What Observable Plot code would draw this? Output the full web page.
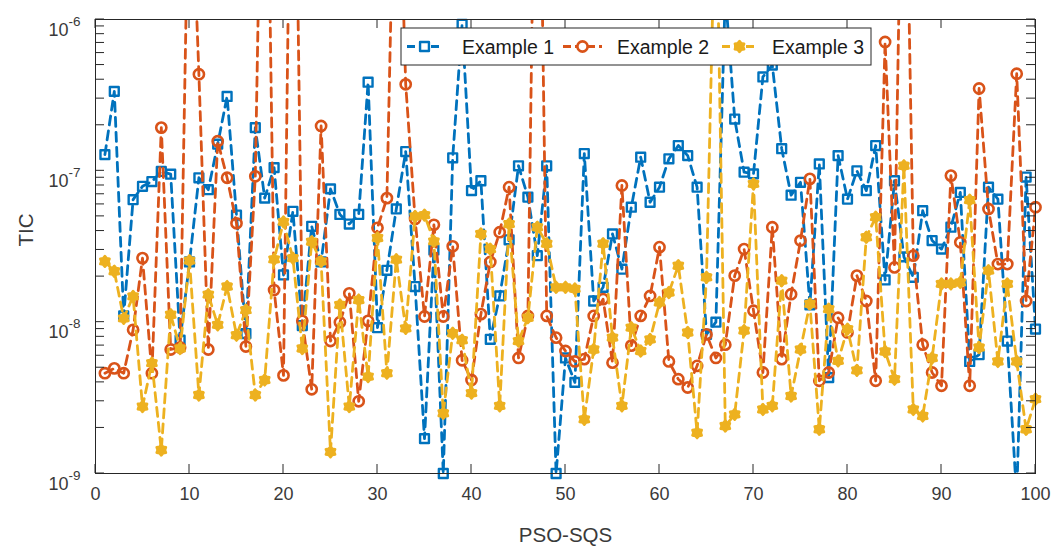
<!DOCTYPE html>
<html>
<head>
<meta charset="utf-8">
<script src="https://cdn.jsdelivr.net/npm/d3@7"></script>
<script src="https://cdn.jsdelivr.net/npm/@observablehq/plot@0.6"></script>
<style>
  body { margin: 0; background: #fff; }
  #chart { width: 1058px; height: 554px; }
</style>
</head>
<body>
<div id="chart"></div>
<script>
// Run index (x) and TIC value per run for each example
const runs = d3.range(1, 101);
const example1 = [
  1.28e-7, 3.35e-7, 1.1e-8, 6.45e-8, 7.9e-8, 8.5e-8, 9.9e-8, 9.5e-8, 7.6e-9, 2.5e-8,
  9.0e-8, 7.5e-8, 1.5e-7, 3.1e-7, 5.1e-8, 8.4e-9, 1.93e-7, 6.6e-8, 1.05e-7, 2.05e-8,
  5.4e-8, 9.5e-9, 4.3e-8, 2.5e-8, 7.6e-8, 5.15e-8, 4.45e-8, 5.15e-8, 3.85e-7, 9.2e-9,
  2.2e-8, 5.6e-8, 1.34e-7, 1.72e-8, 1.7e-9, 3.0e-8, 1.0e-9, 1.22e-7, 9.3e-7, 7.4e-8,
  8.6e-8, 7.7e-9, 1.49e-8, 3.5e-8, 1.08e-7, 6.7e-8, 2.75e-8, 1.08e-7, 1.0e-9, 5.8e-9,
  4.0e-9, 1.3e-7, 1.38e-8, 1.7e-8, 3.83e-8, 2.24e-8, 5.75e-8, 1.23e-7, 6.2e-8, 7.8e-8,
  1.2e-7, 1.47e-7, 1.26e-7, 7.8e-8, 8.3e-9, 1.0e-8, 1.5e-6, 2.2e-7, 9.8e-8, 9.55e-8,
  4.17e-7, 5.0e-7, 1.4e-7, 6.9e-8, 8.4e-8, 1.3e-8, 1.11e-7, 4.3e-9, 1.26e-7, 6.5e-8,
  1.0e-7, 7.4e-8, 1.47e-7, 1.9e-8, 8.6e-8, 2.7e-8, 1.98e-8, 5.45e-8, 3.46e-8, 3.04e-8,
  4.24e-8, 7.2e-8, 5.5e-9, 6.1e-9, 7.8e-8, 6.5e-8, 7.5e-9, 7e-10, 9.1e-8, 9.0e-9
];
const example2 = [
  4.6e-9, 4.95e-9, 4.6e-9, 8.9e-9, 2.65e-8, 4.6e-9, 1.93e-7, 6.6e-9, 6.8e-9, 2e-5,
  4.35e-7, 6.6e-9, 1.57e-7, 9.0e-8, 4.5e-8, 6.9e-9, 9.2e-8, 3e-4, 1.63e-8, 4.45e-9,
  3e-4, 1.02e-8, 3.6e-9, 1.98e-7, 7.5e-9, 1.0e-8, 1.55e-8, 3.0e-9, 1.02e-8, 4.2e-8,
  6.6e-8, 5e-5, 3.73e-7, 4.8e-8, 1.09e-8, 4.4e-8, 1.09e-8, 3.17e-8, 5.6e-9, 4.15e-9,
  1.13e-8, 2.5e-8, 3.93e-8, 7.8e-8, 5.8e-9, 1.1e-8, 3e-4, 1.1e-8, 7.9e-9, 6.45e-9,
  5.5e-9, 5.7e-9, 1.1e-8, 1.42e-8, 5.4e-9, 8.0e-8, 7.0e-9, 1.1e-8, 1.49e-8, 3.13e-8,
  5.5e-9, 4.2e-9, 3.7e-9, 5.14e-9, 8.3e-9, 5.8e-9, 7.1e-9, 2.03e-8, 3.04e-8, 1.19e-8,
  4.65e-9, 4.24e-8, 5.7e-9, 1.53e-8, 3.46e-8, 8.85e-8, 4.1e-9, 4.65e-9, 1.07e-8, 8.55e-9,
  2.03e-8, 1.38e-8, 4.1e-9, 7.1e-7, 2.3e-8, 1e-4, 2.75e-8, 7.1e-9, 4.65e-9, 3.8e-9,
  9.3e-8, 3.37e-8, 3.8e-9, 3.5e-7, 5.6e-8, 2.42e-8, 2.42e-8, 4.38e-7, 1.38e-8, 5.75e-8
];
const example3 = [
  2.52e-8, 2.17e-8, 1.06e-8, 1.48e-8, 2.77e-9, 5.36e-9, 1.43e-9, 1.12e-8, 6.7e-9, 2.55e-8,
  3.3e-9, 1.52e-8, 9.6e-9, 1.72e-8, 8.2e-9, 1.2e-8, 3.3e-9, 4.15e-9, 2.6e-8, 4.6e-8,
  2.65e-8, 6.7e-9, 3.4e-8, 2.52e-8, 1.39e-9, 1.3e-8, 2.77e-9, 1.4e-8, 4.37e-9, 3.6e-8,
  4.6e-9, 2.59e-8, 9.1e-9, 5.0e-8, 5.1e-8, 3.42e-8, 2.5e-9, 8.45e-9, 7.6e-9, 3.4e-9,
  3.83e-8, 3.04e-8, 2.8e-9, 4.45e-8, 7.5e-9, 1.07e-8, 4.24e-8, 3.3e-8, 1.7e-8, 1.7e-8,
  1.66e-8, 2.28e-9, 6.6e-9, 3.3e-8, 7.9e-9, 2.8e-9, 9.2e-9, 6.45e-9, 7.7e-9, 1.35e-8,
  1.57e-8, 2.36e-8, 8.55e-9, 1.86e-9, 1.98e-8, 1e-5, 2.06e-9, 2.46e-9, 8.8e-9, 8.2e-8,
  2.65e-9, 2.8e-9, 1.88e-8, 3.25e-9, 6.6e-9, 1.32e-8, 1.96e-9, 1.22e-8, 5.55e-9, 9.0e-9,
  4.8e-9, 3.64e-8, 4.94e-8, 6.4e-9, 4.2e-9, 1.08e-7, 2.65e-9, 2.4e-9, 5.8e-9, 1.79e-8,
  1.79e-8, 1.83e-8, 6.4e-8, 6.8e-9, 2.19e-8, 5.5e-9, 1.79e-8, 5.5e-9, 1.96e-9, 3.1e-9
];
const seriesNames = ["Example 1", "Example 2", "Example 3"];
const xTicks = d3.range(0, 101, 10);
const yTicks = [1e-9, 1e-8, 1e-7, 1e-6];
const xLabel = "PSO-SQS";
const yLabel = "TIC";

const colors = ["#0072BD", "#D95319", "#EDB120"];
const font = "'Liberation Sans', Arial, Helvetica, sans-serif";
const ink = "#262626";
const textInk = "#3a3a3a";
const dash = "9,6";

// filled six-pointed star used for the third series
const hexagram = {
  draw(ctx, size) {
    const R = Math.sqrt(size) * 0.6, r = R * 0.68;
    for (let j = 0; j < 12; j++) {
      const a = Math.PI / 2 + j * Math.PI / 6, rad = j % 2 ? r : R;
      const px = rad * Math.cos(a), py = -rad * Math.sin(a);
      j ? ctx.lineTo(px, py) : ctx.moveTo(px, py);
    }
    ctx.closePath();
  }
};
const markerStyles = [
  {symbol: "square", fill: "none", strokeWidth: 2.4, r: 5.0},
  {symbol: "circle", fill: "none", strokeWidth: 2.6, r: 5.1},
  {symbol: hexagram, fillKey: true, strokeWidth: 2.6, r: 5.0}
];

const tables = [example1, example2, example3].map((vals, k) =>
  vals.map((v, i) => ({run: runs[i], tic: v, series: seriesNames[k]})));
const inView = d => d.tic >= 0.999e-9 && d.tic <= 1.001e-6;

const marks = [];
tables.forEach((rows, k) => {
  const m = markerStyles[k];
  marks.push(Plot.line(rows, {
    x: "run", y: "tic", stroke: colors[k], strokeWidth: 2.8,
    strokeDasharray: dash, clip: true
  }));
  marks.push(Plot.dot(rows.filter(inView), {
    x: "run", y: "tic", symbol: () => m.symbol, r: m.r,
    stroke: colors[k], strokeWidth: m.strokeWidth, strokeLinejoin: "round",
    fill: m.fillKey ? colors[k] : "none"
  }));
});

const plot = Plot.plot({
  width: 1058, height: 554,
  marginLeft: 95, marginRight: 23, marginTop: 19, marginBottom: 81,
  style: {fontFamily: font, fontSize: "18px", color: ink, background: "#fff"},
  x: {domain: [0, 100]},
  y: {type: "log", domain: [1e-9, 1e-6]},
  marks: [
    ...marks,
    Plot.frame({stroke: ink, strokeWidth: 1}),
    Plot.axisX({ticks: xTicks, tickSize: 0, tickPadding: 14, label: null, fontSize: 18, fill: textInk}),
    Plot.axisY({ticks: yTicks, tickSize: 0, tickPadding: 15, label: null, fontSize: 18, fill: textInk,
      tickFormat: d => "10^" + Math.round(Math.log10(d))}),
    Plot.text([xLabel], {frameAnchor: "bottom", dy: 68, fontSize: 20.5, fill: textInk}),
    Plot.text([yLabel], {frameAnchor: "left", dx: -69, rotate: -90, fontSize: 20.5, fill: textInk})
  ]
});

const svg = d3.select(plot);
const sx = plot.scale("x"), sy = plot.scale("y");

// superscript exponents on the y tick labels; the whole label is centred on its tick
svg.selectAll('g[aria-label="y-axis tick label"] text').each(function () {
  const t = d3.select(this);
  const [base, exp] = t.text().split("^");
  t.text(null).attr("dy", 10.5);
  t.append("tspan").text(base);
  t.append("tspan").attr("dy", -10).attr("font-size", "13.5px").text(exp);
});

// inward tick marks on all four sides
const tg = svg.append("g").attr("stroke", ink).attr("stroke-width", 1);
const yBottom = sy.apply(1e-9), yTop = sy.apply(1e-6);
const xLeft = sx.apply(0), xRight = sx.apply(100);
xTicks.forEach(t => {
  const x = sx.apply(t);
  tg.append("line").attr("x1", x).attr("x2", x).attr("y1", yBottom).attr("y2", yBottom - 9);
  tg.append("line").attr("x1", x).attr("x2", x).attr("y1", yTop).attr("y2", yTop + 9);
});
const minor = [];
for (let e = -9; e < -6; e++) for (let m = 1; m < 10; m++) minor.push(m * Math.pow(10, e));
minor.push(1e-6);
minor.forEach(v => {
  const y = sy.apply(v), len = 9;
  tg.append("line").attr("x1", xLeft).attr("x2", xLeft + len).attr("y1", y).attr("y2", y);
  tg.append("line").attr("x1", xRight).attr("x2", xRight - len).attr("y1", y).attr("y2", y);
});

// legend box in the upper part of the axes
const lg = svg.append("g").attr("font-family", font).attr("font-size", "19.5px").attr("text-anchor", "start");
lg.append("rect").attr("x", 401).attr("y", 28).attr("width", 470).attr("height", 37)
  .attr("fill", "#fff").attr("stroke", ink).attr("stroke-width", 1);
const entries = [
  {x0: 407, x1: 442, text: 462},
  {x0: 563, x1: 602, text: 617},
  {x0: 722, x1: 757, text: 772}
];
entries.forEach((e, k) => {
  const cy = 46.5, m = markerStyles[k];
  lg.append("line").attr("x1", e.x0).attr("x2", e.x1).attr("y1", cy).attr("y2", cy)
    .attr("stroke", colors[k]).attr("stroke-width", 2.8).attr("stroke-dasharray", "8,4");
  const type = m.symbol === "square" ? d3.symbolSquare : m.symbol === "circle" ? d3.symbolCircle : hexagram;
  lg.append("path").attr("d", d3.symbol(type, Math.PI * m.r * m.r)())
    .attr("transform", `translate(${(e.x0 + e.x1) / 2},${cy})`)
    .attr("fill", m.fillKey ? colors[k] : "#fff").attr("stroke", colors[k])
    .attr("stroke-width", m.strokeWidth).attr("stroke-linejoin", "round");
  lg.append("text").attr("x", e.text).attr("y", cy + 7).attr("fill", "#1a1a1a").text(seriesNames[k]);
});

document.getElementById("chart").appendChild(plot);
</script>
</body>
</html>
